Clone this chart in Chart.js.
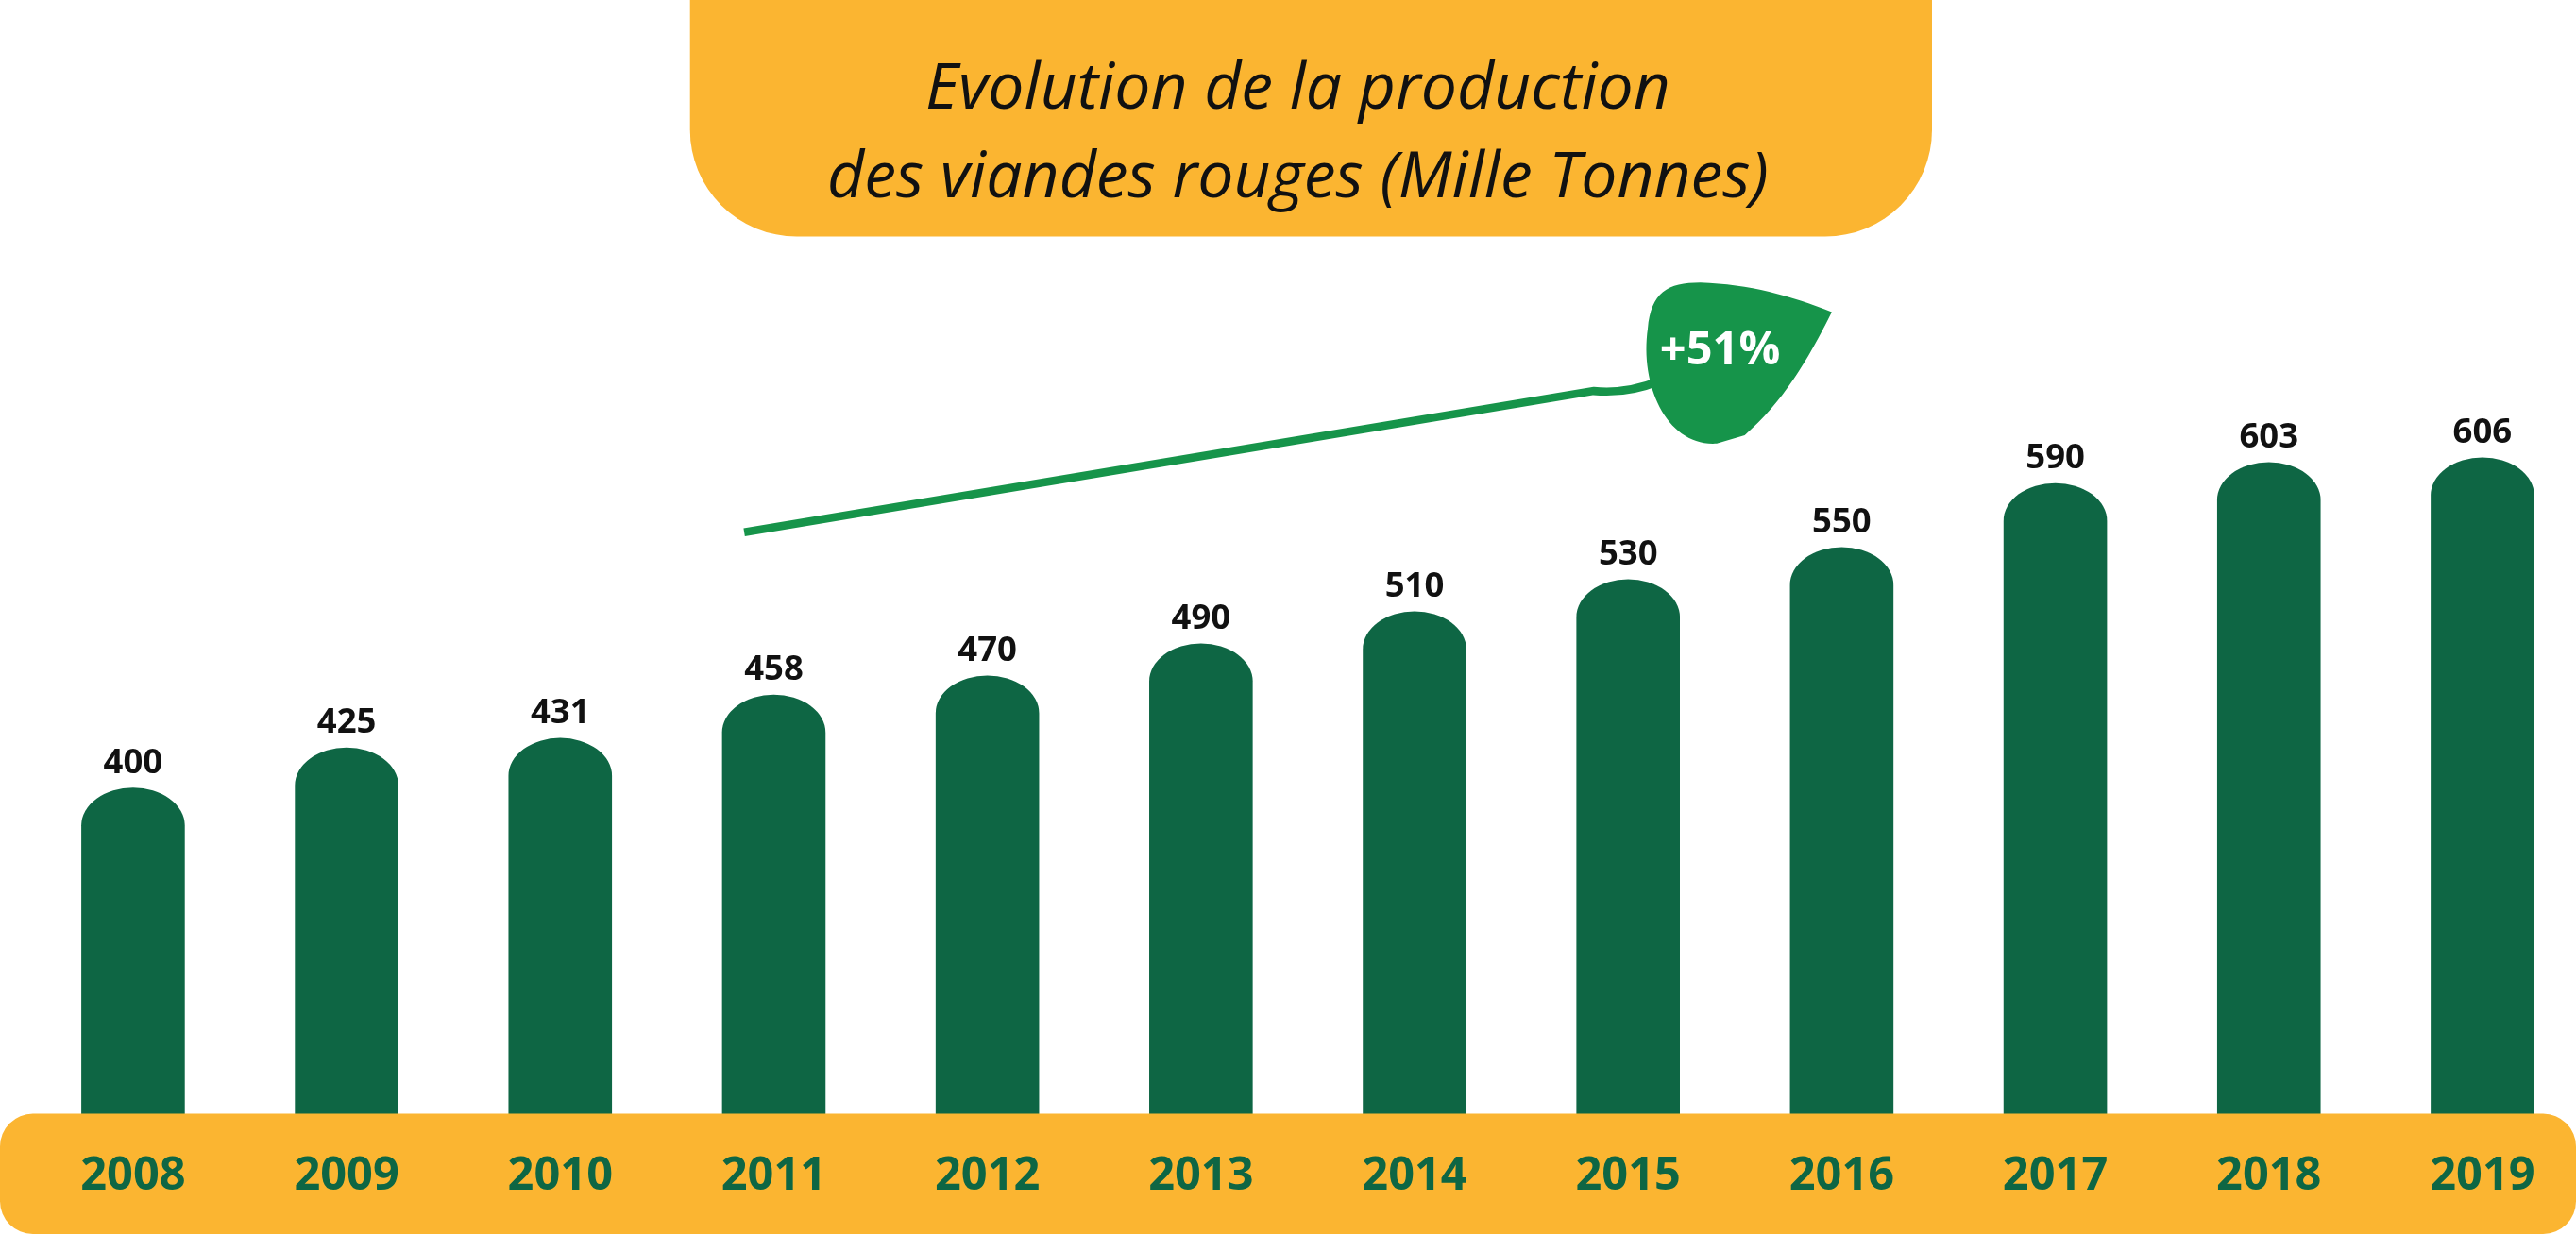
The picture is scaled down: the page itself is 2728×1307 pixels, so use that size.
<!DOCTYPE html>
<html><head><meta charset="utf-8">
<script src="https://cdn.jsdelivr.net/npm/chart.js@4"></script>
<style>html,body{margin:0;padding:0;background:#fff}#w{width:2728px;height:1307px}</style>
</head><body><div id="w"><canvas id="c"></canvas></div>
<script>
const years = [2008,2009,2010,2011,2012,2013,2014,2015,2016,2017,2018,2019];
const values = [400,425,431,458,470,490,510,530,550,590,603,606];
const titleLines = ["Evolution de la production","des viandes rouges (Mille Tonnes)"];
const growthLabel = "+51%";
const S = 2728/1568;
const GREEN='#0e6644', YEL='#fbb531', LG='#16944a';
const deco = {
  id:'deco',
  beforeDatasetsDraw(ch){
    const c=ch.ctx;
    c.save();
    c.fillStyle=YEL;
    c.beginPath();
    const x0=420*S,x1=1176*S,yb=144*S,r=65*S;
    c.moveTo(x0,0);c.lineTo(x1,0);c.lineTo(x1,yb-r);
    c.arcTo(x1,yb,x1-r,yb,r);c.lineTo(x0+r,yb);c.arcTo(x0,yb,x0,yb-r,r);c.closePath();c.fill();
    c.fillStyle='#111';c.textAlign='center';c.textBaseline='middle';
    c.font='italic 400 '+(39*S)+'px "Open Sans"';
    c.fillText(titleLines[0],790*S,55*S);
    c.fillText(titleLines[1],790*S,109*S);
    c.strokeStyle=LG;c.lineWidth=5*S;c.lineCap='butt';
    c.beginPath();c.moveTo(453*S,324*S);c.lineTo(970*S,238*S);
    c.quadraticCurveTo(990*S,240*S,1010*S,232*S);c.stroke();
    c.fillStyle=LG;c.beginPath();
    c.moveTo(1045*S,270*S);
    c.bezierCurveTo(1015*S,272*S,998*S,235*S,1003*S,200*S);
    c.bezierCurveTo(1005*S,178*S,1015*S,172*S,1035*S,172*S);
    c.bezierCurveTo(1065*S,173*S,1090*S,180*S,1115*S,190*S);
    c.bezierCurveTo(1100*S,220*S,1085*S,245*S,1062*S,265*S);
    c.closePath();c.fill();
    c.fillStyle='#fff';c.font='bold '+(28*S)+'px "Open Sans"';
    c.fillText(growthLabel,1047*S,214*S);
    c.restore();
  },
  afterDatasetsDraw(ch){
    const c=ch.ctx;const meta=ch.getDatasetMeta(0);
    c.save();
    const ry=23*S;
    meta.data.forEach((b,i)=>{
      const w=b.width;
      c.fillStyle=GREEN;
      c.beginPath();
      c.moveTo(b.x-w/2,b.base);c.lineTo(b.x-w/2,b.y+ry);
      c.ellipse(b.x,b.y+ry,w/2,ry,0,Math.PI,0);
      c.lineTo(b.x+w/2,b.base);c.closePath();c.fill();
      c.fillStyle='#111';c.textAlign='center';c.textBaseline='alphabetic';
      c.font='bold '+(21*S)+'px "Open Sans"';
      c.fillText(String(values[i]),b.x,b.y-9*S);
    });
    c.fillStyle=YEL;
    const by=678*S,r=20*S;
    c.beginPath();
    c.moveTo(r,by);c.lineTo(ch.width-r,by);c.arcTo(ch.width,by,ch.width,by+r,r);
    c.lineTo(ch.width,ch.height-r);c.arcTo(ch.width,ch.height,ch.width-r,ch.height,r);
    c.lineTo(r,ch.height);c.arcTo(0,ch.height,0,ch.height-r,r);c.lineTo(0,by+r);c.arcTo(0,by,r,by,r);c.fill();
    c.fillStyle=GREEN;c.textBaseline='middle';c.font='bold '+(28*S)+'px "Open Sans"';
    meta.data.forEach((b,i)=>c.fillText(String(years[i]),b.x,716*S));
    c.restore();
  }
};
new Chart(document.getElementById('c'),{
  type:'bar',
  data:{datasets:[{data:years.map((y,i)=>({x:y,y:values[i]})),backgroundColor:'rgba(0,0,0,0)',barThickness:63*S}]},
  options:{responsive:true,maintainAspectRatio:false,animation:false,
    layout:{padding:0},
    plugins:{legend:{display:false},tooltip:{enabled:false}},
    scales:{x:{type:'linear',offset:false,min:2007.377,max:2019.438,display:false},
            y:{min:121.6,max:891.3,display:false}}},
  plugins:[deco]
});
</script></body></html>
